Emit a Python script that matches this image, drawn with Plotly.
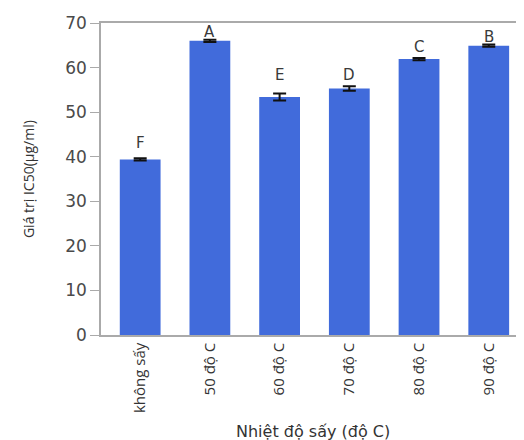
import plotly.graph_objects as go

categories = ["không sấy", "50 độ C", "60 độ C", "70 độ C", "80 độ C", "90 độ C"]
values = [39.4, 66.0, 53.4, 55.3, 61.9, 64.9]
errors = [0.25, 0.25, 0.8, 0.5, 0.25, 0.25]
letters = ["F", "A", "E", "D", "C", "B"]
letter_y = [43.1, 68.0, 58.3, 58.3, 64.6, 66.9]
y_ticks = [0, 10, 20, 30, 40, 50, 60, 70]

xs = list(range(len(categories)))

fig = go.Figure()
fig.add_trace(go.Bar(
    x=xs, y=values, width=0.585,
    marker=dict(color="#416BDB", line=dict(width=0)),
    error_y=dict(type="data", array=errors, visible=True, color="#111111", thickness=2, width=6.5),
    showlegend=False,
))

for x, ly, t in zip(xs, letter_y, letters):
    fig.add_annotation(x=x, y=ly, text=t, showarrow=False, yanchor="middle",
                       font=dict(family="DejaVu Sans", size=15, color="#3a3a3a"))

fig.add_annotation(xref="paper", yref="paper", x=0.5, y=-0.31, yanchor="middle", xanchor="center",
                   text="Nhiệt độ sấy (độ C)", showarrow=False,
                   font=dict(family="DejaVu Sans", size=16, color="#333333"))
fig.add_annotation(xref="paper", yref="paper", x=-0.172, y=0.5, textangle=-90,
                   xanchor="center", yanchor="middle",
                   text="Giá trị IC50(μg/ml)", showarrow=False,
                   font=dict(family="Open Sans", size=14, color="#333333"))

fig.update_layout(
    width=524, height=440,
    margin=dict(l=93, r=7, t=15, b=113),
    paper_bgcolor="white", plot_bgcolor="white",
    font=dict(family="Open Sans", color="#444444"),
)
fig.update_xaxes(
    range=[-0.562, 5.52], automargin=False,
    tickmode="array", tickvals=xs, ticktext=categories, tickangle=-90,
    tickfont=dict(family="Open Sans", size=15, color="#333333"),
    showline=True, linecolor="#aaaaaa", linewidth=1.5, mirror=True,
    showgrid=False, ticks="", zeroline=False,
)
fig.update_yaxes(
    range=[0, 70], automargin=False,
    tickmode="array", tickvals=y_ticks,
    tickfont=dict(family="DejaVu Sans", size=17, color="#4a4a4a"),
    showline=True, linecolor="#aaaaaa", linewidth=1.5, mirror=True,
    showgrid=False, ticks="outside", ticklen=9, tickcolor="#aaaaaa", zeroline=False,
)

fig.write_html("out.html")
